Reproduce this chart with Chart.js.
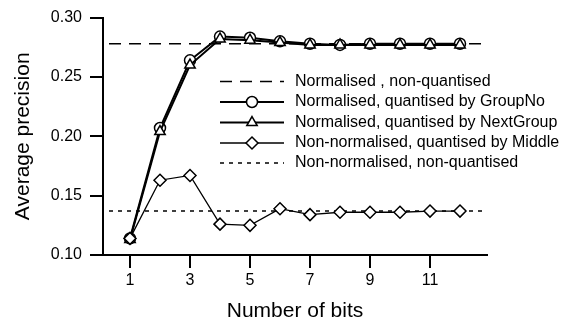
<!DOCTYPE html>
<html>
<head>
<meta charset="utf-8">
<script src="https://cdn.jsdelivr.net/npm/chart.js@4/dist/chart.umd.min.js"></script>
<style>
  html, body { margin: 0; padding: 0; background: #fff; }
  #wrap { width: 562px; height: 322px; }
</style>
</head>
<body>
<div id="wrap"><canvas id="bitsChart" width="562" height="322"></canvas></div>
<script>
var bits = [1, 2, 3, 4, 5, 6, 7, 8, 9, 10, 11, 12];
var groupNo = [0.114, 0.207, 0.264, 0.284, 0.283, 0.280, 0.278, 0.277, 0.278, 0.278, 0.278, 0.278];
var nextGroup = [0.113, 0.204, 0.260, 0.282, 0.281, 0.279, 0.277, 0.277, 0.277, 0.277, 0.277, 0.277];
var middle = [0.114, 0.163, 0.167, 0.126, 0.125, 0.139, 0.134, 0.136, 0.136, 0.136, 0.137, 0.137];
var normLevel = 0.278;
var nonNormLevel = 0.137;
var refSpan = [0.3, 12.85];
var xTicks = [1, 3, 5, 7, 9, 11];
var legendLabels = [
    "Normalised , non-quantised",
    "Normalised, quantised by GroupNo",
    "Normalised, quantised by NextGroup",
    "Non-normalised, quantised by Middle",
    "Non-normalised, non-quantised"
];

const FONT = "Liberation Sans, Arial, Helvetica, sans-serif";
Chart.defaults.font.family = FONT;
Chart.defaults.color = '#000';

const pts = arr => arr.map((v, i) => ({ x: bits[i], y: v }));
const flat = v => refSpan.map(x => ({ x: x, y: v }));

const datasets = [
    { label: legendLabels[0], data: flat(normLevel), borderColor: '#000', borderWidth: 1.5, borderDash: [12, 8], pointRadius: 0, order: 5 },
    { label: legendLabels[1], data: pts(groupNo), borderColor: '#000', borderWidth: 2, pointStyle: 'circle', pointRadius: 5.5, pointBorderWidth: 1.5, pointBackgroundColor: '#fff', order: 3 },
    { label: legendLabels[2], data: pts(nextGroup), borderColor: '#000', borderWidth: 2, pointStyle: 'triangle', pointRadius: 6, pointBorderWidth: 1.5, pointBackgroundColor: '#fff', order: 2 },
    { label: legendLabels[3], data: pts(middle), borderColor: '#000', borderWidth: 1.3, pointStyle: 'rectRot', pointRadius: 6, pointBorderWidth: 1.5, pointBackgroundColor: '#fff', order: 1 },
    { label: legendLabels[4], data: flat(nonNormLevel), borderColor: '#000', borderWidth: 1.5, borderDash: [4, 5], pointRadius: 0, order: 4 }
];

// legend drawn inside the plot: short line with the marker in the middle
function marker(ctx, style, x, y, r) {
    ctx.beginPath();
    if (style === 'circle') {
        ctx.arc(x, y, r, 0, Math.PI * 2);
    } else if (style === 'triangle') {
        ctx.moveTo(x, y - r);
        ctx.lineTo(x + r * Math.sin(Math.PI * 2 / 3), y + r / 2);
        ctx.lineTo(x - r * Math.sin(Math.PI * 2 / 3), y + r / 2);
        ctx.closePath();
    } else {
        ctx.moveTo(x - r, y); ctx.lineTo(x, y - r); ctx.lineTo(x + r, y); ctx.lineTo(x, y + r);
        ctx.closePath();
    }
    ctx.fillStyle = '#fff';
    ctx.fill();
    ctx.lineWidth = 1.5;
    ctx.strokeStyle = '#000';
    ctx.stroke();
}

const insideLegend = {
    id: 'insideLegend',
    afterDraw(chart) {
        const ctx = chart.ctx;
        const a = chart.chartArea;
        const x0 = a.left + 117, x1 = a.left + 181, tx = a.left + 192;
        const rowY = [81.5, 102, 122.5, 143, 163];
        ctx.save();
        chart.data.datasets.forEach((ds, i) => {
            const y = rowY[i];
            ctx.beginPath();
            ctx.setLineDash(ds.borderDash || []);
            ctx.lineWidth = ds.borderWidth;
            ctx.strokeStyle = '#000';
            ctx.moveTo(x0, y);
            ctx.lineTo(x1, y);
            ctx.stroke();
            ctx.setLineDash([]);
            if (ds.pointRadius > 0) marker(ctx, ds.pointStyle, (x0 + x1) / 2, y, ds.pointRadius);
            ctx.fillStyle = '#000';
            ctx.font = '16px ' + FONT;
            ctx.textBaseline = 'middle';
            ctx.textAlign = 'left';
            ctx.fillText(ds.label, tx, y);
        });
        ctx.restore();
    }
};

const bitsChart = new Chart(document.getElementById('bitsChart'), {
    type: 'line',
    data: { datasets: datasets },
    options: {
        responsive: false,
        animation: false,
        layout: { padding: { top: 15, right: 75, bottom: 0, left: 0 } },
        plugins: { legend: { display: false }, tooltip: { enabled: false } },
        elements: { line: { tension: 0 } },
        scales: {
            x: {
                type: 'linear',
                min: 0.1,
                max: 12.9,
                afterBuildTicks: s => { s.ticks = xTicks.map(v => ({ value: v })); },
                afterFit: s => { s.height = 67; },
                ticks: { font: { size: 16 }, padding: 3, maxRotation: 0, autoSkip: false },
                grid: { drawOnChartArea: false, drawTicks: true, tickLength: 13, color: '#000', lineWidth: 2 },
                border: { display: true, color: '#000', width: 2 },
                title: { display: true, text: 'Number of bits', font: { size: 21, lineHeight: 1 }, padding: { top: 0, bottom: 0 } }
            },
            y: {
                min: 0.1,
                max: 0.3,
                afterFit: s => { s.width = 103; },
                ticks: { stepSize: 0.05, font: { size: 16 }, padding: 8, callback: v => v.toFixed(2) },
                grid: { drawOnChartArea: false, drawTicks: true, tickLength: 13, color: '#000', lineWidth: 2 },
                border: { display: true, color: '#000', width: 2 },
                title: { display: true, text: 'Average precision', font: { size: 21, lineHeight: 1 }, padding: { top: 13, bottom: 0 } }
            }
        }
    },
    plugins: [insideLegend]
});
</script>
</body>
</html>
